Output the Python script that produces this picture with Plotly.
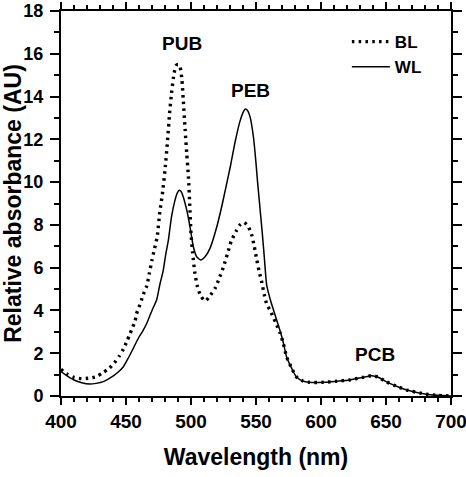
import plotly.graph_objects as go

# BL (blue light) spectrum
bl_wl = [400, 405, 410, 416, 421, 427, 432, 437, 441, 445, 448, 451, 453, 455, 457, 458, 460,
         462, 464, 466, 468, 470, 472, 474, 476, 478, 480, 482, 483.5, 485, 487, 488.5, 490,
         491.5, 493, 494, 495.5, 496.7, 498, 499, 500, 501.3, 503, 505, 507.5, 511, 514.5,
         518.5, 522, 525, 528, 531, 534.5, 537.5, 540.8, 544, 546.7, 548.7, 550.5, 552.5,
         554.5, 556.5, 558.5, 560.5, 565, 568.5, 571, 573.5, 577.5, 581, 586, 591, 602, 612,
         622, 632, 639, 644, 650, 660, 666, 681, 690, 700]
bl_abs = [1.25, 1.01, 0.87, 0.81, 0.83, 0.90, 1.08, 1.29, 1.55, 1.88, 2.2, 2.6, 2.9, 3.2, 3.5,
          3.83, 4.15, 4.5, 4.85, 5.15, 5.75, 6.36, 6.9, 7.45, 8.6, 9.45, 10.57, 11.97, 13.2,
          14.15, 15.09, 15.45, 15.5, 15.4, 14.8, 13.9, 12.44, 11.35, 10.25, 9.0, 7.6, 6.67,
          5.74, 5.11, 4.68, 4.44, 4.68, 5.03, 5.55, 6.04, 6.64, 7.25, 7.68, 7.99, 8.12, 7.92,
          7.53, 6.98, 6.4, 5.81, 5.3, 4.7, 4.25, 4.05, 3.45, 2.95, 2.46, 1.84, 1.29, 0.9, 0.7,
          0.64, 0.64, 0.69, 0.75, 0.87, 0.95, 0.88, 0.67, 0.41, 0.28, 0.08, 0.03, 0.0]

# WL (white light) spectrum
wl_wl = [400, 405, 410, 416, 422, 427, 432.5, 436, 440, 444, 448, 452, 455.6, 459.5, 463, 466,
         470, 473.6, 476, 478.7, 480.5, 482.6, 485, 487.7, 489.5, 491, 492.5, 494, 496.7,
         499.2, 501.8, 504.4, 507.5, 510.8, 514.6, 519.8, 523.6, 527, 530.5, 534, 537.7,
         540, 541.8, 543.5, 545.4, 548, 549.8, 551.3, 552.5, 555, 556.5, 558.2, 560.8, 564.6,
         568.5, 571, 573.5, 577.5, 581, 586, 591, 602, 612, 622, 632, 639, 644, 650, 660, 666,
         681, 690, 700]
wl_abs = [1.14, 0.93, 0.75, 0.62, 0.56, 0.59, 0.67, 0.78, 0.93, 1.12, 1.37, 1.8, 2.23, 2.7,
          3.05, 3.4, 4.0, 4.5, 5.2, 5.89, 6.6, 7.29, 8.38, 9.16, 9.5, 9.62, 9.55, 9.32, 8.7,
          7.92, 6.98, 6.51, 6.36, 6.51, 6.9, 7.9, 8.85, 9.8, 10.8, 11.9, 12.85, 13.25,
          13.42, 13.35, 13.06, 12.12, 11.03, 9.94, 9.16, 7.5, 6.4, 5.2, 4.55, 3.8, 3.05, 2.5,
          1.84, 1.29, 0.9, 0.7, 0.64, 0.64, 0.69, 0.75, 0.87, 0.95, 0.88, 0.67, 0.41, 0.28,
          0.08, 0.03, 0.0]

peak_labels = ["PUB", "PEB", "PCB"]
peak_x = [493, 545.5, 641.5]
peak_y = [16.5, 14.3, 1.96]

FONT = "Arial, Liberation Sans, sans-serif"

fig = go.Figure()
fig.add_trace(go.Scatter(x=bl_wl, y=bl_abs, mode="lines", name="BL",
                         line=dict(color="black", width=3.4, dash="2.5px,4.3px", shape="spline",
                                   smoothing=0.6)))
fig.add_trace(go.Scatter(x=wl_wl, y=wl_abs, mode="lines", name="WL",
                         line=dict(color="black", width=1.5, shape="spline", smoothing=0.6)))

for t, x, y in zip(peak_labels, peak_x, peak_y):
    fig.add_annotation(x=x, y=y, text=t, showarrow=False,
                       font=dict(family=FONT, size=19, color="black", weight="bold"))

axis_common = dict(showline=True, linecolor="black", linewidth=2, mirror="allticks",
                   ticks="outside", tickwidth=2, tickcolor="black",
                   showgrid=False, zeroline=False, automargin=False,
                   ticklabeloverflow="allow")

fig.update_xaxes(range=[400, 700], dtick=50, tick0=400, ticklen=7,
                 tickfont=dict(family=FONT, size=19, color="black", weight="bold"),
                 minor=dict(dtick=10, ticks="outside", ticklen=4, tickwidth=1.5, tickcolor="black"),
                 title=dict(text="Wavelength (nm)", standoff=18,
                            font=dict(family=FONT, size=23, color="black", weight="bold")),
                 **axis_common)
fig.update_yaxes(range=[0, 18], dtick=2, tick0=0, ticklen=9, ticklabelstandoff=3,
                 tickfont=dict(family=FONT, size=18, color="black", weight="bold"),
                 minor=dict(dtick=1, ticks="outside", ticklen=5, tickwidth=1.5, tickcolor="black"),
                 title=dict(text="Relative absorbance (AU)", standoff=10,
                            font=dict(family=FONT, size=23, color="black", weight="bold")),
                 **axis_common)

fig.update_layout(
    width=466, height=477,
    margin=dict(l=61, r=15, t=11, b=81, autoexpand=False),
    plot_bgcolor="white", paper_bgcolor="white",
    showlegend=True,
    legend=dict(x=0.733, y=0.966, xanchor="left", yanchor="top",
                bgcolor="rgba(0,0,0,0)", borderwidth=0,
                font=dict(family=FONT, size=17, color="black", weight="bold"),
                itemwidth=38, tracegroupgap=0),
)

# remove the page's default body margin so the figure fills the window exactly
fig.write_html("out.html", config={"displayModeBar": False},
               post_script="document.body.style.margin='0';")
